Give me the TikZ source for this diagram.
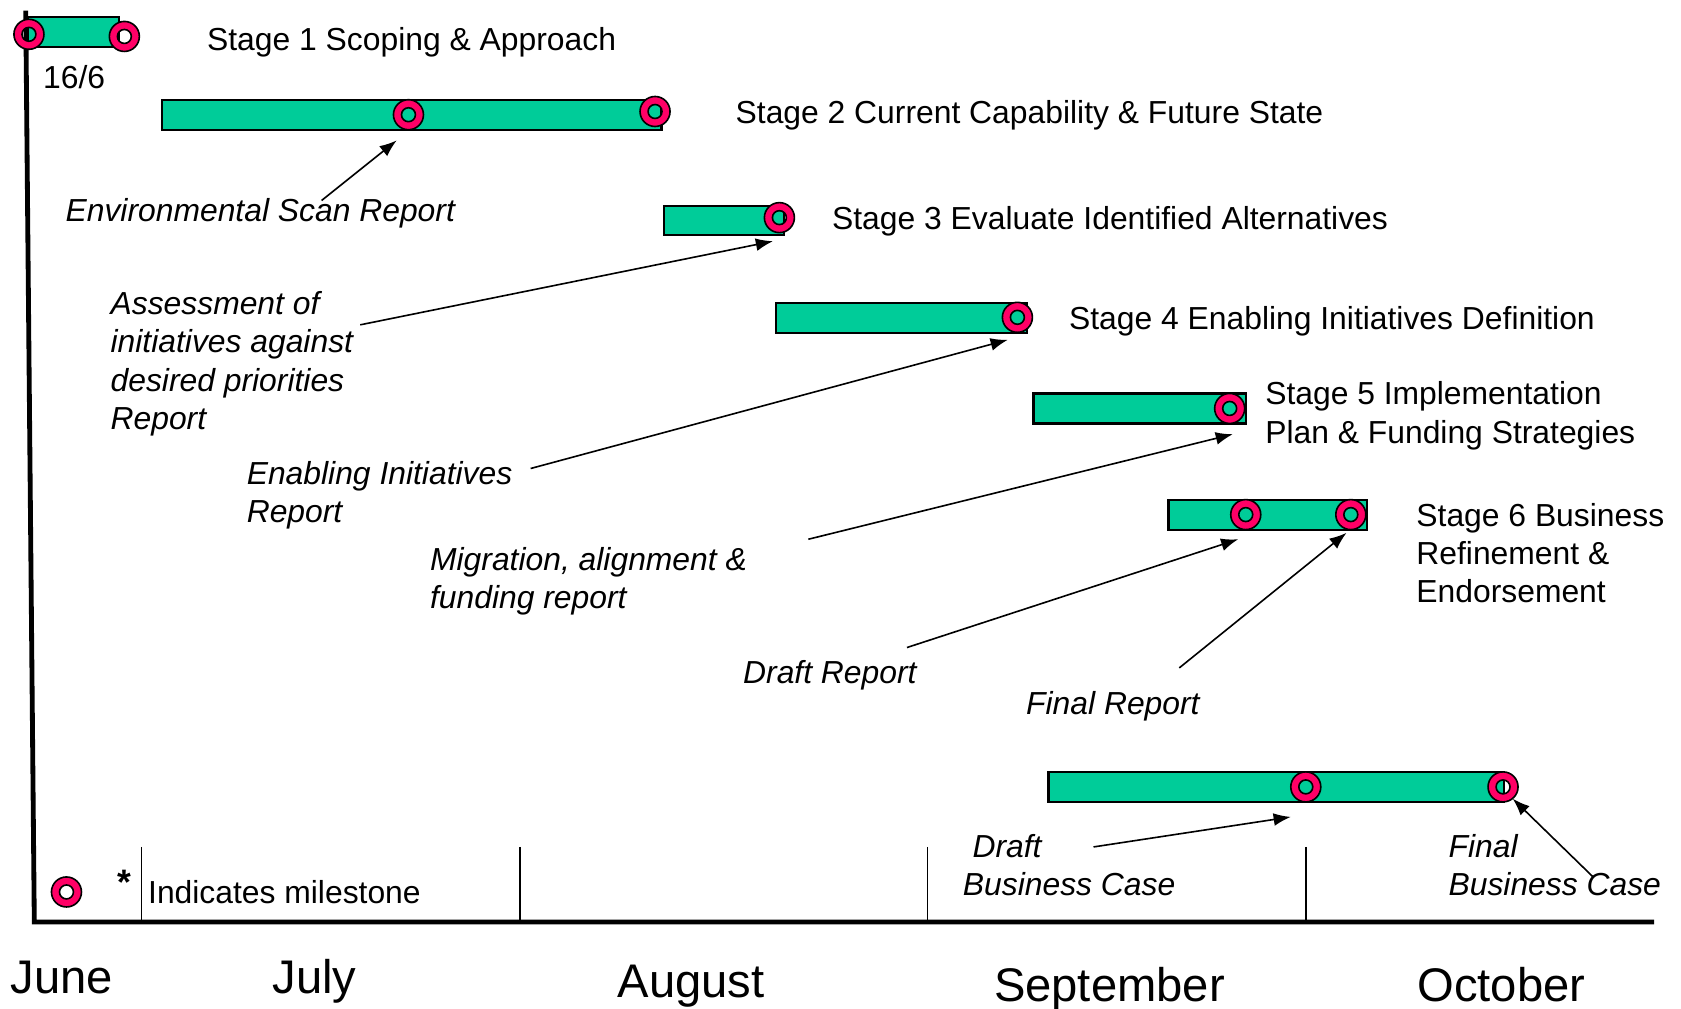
\documentclass[tikz,border=0pt]{standalone}
\usepackage{fontspec}
\setmainfont{Liberation Sans}
\usetikzlibrary{arrows.meta}
\definecolor{barfill}{RGB}{0,204,153}
\definecolor{msred}{RGB}{255,0,102}

\begin{document}
\begin{tikzpicture}[x=1pt,y=-1pt,
  bar/.style={draw=black, line width=2pt, fill=barfill, inner sep=0pt, outer sep=0pt},
  lbl/.style={anchor=base west, inner sep=0pt, font=\fontsize{29.7}{35.5}\selectfont},
  mlbl/.style={anchor=north west, inner sep=0pt, align=left, font=\fontsize{29.7}{35.5}\selectfont},
  note/.style={lbl, font=\fontsize{29.7}{35.5}\selectfont\itshape},
  mnote/.style={mlbl, font=\fontsize{29.7}{35.5}\selectfont\itshape},
  month/.style={anchor=base west, inner sep=0pt, font=\fontsize{44}{50}\selectfont},
  axisline/.style={line width=4.5pt},
  tickline/.style={line width=1.5pt},
  callout/.style={line width=1.5pt, -{Latex[length=16pt,width=12pt]}},
  milestone/.pic={\path[draw=black, line width=1.5pt, fill=msred, even odd rule]
      (0,0) circle[radius=14pt] (0,0) circle[radius=6.5pt];}
]
\useasboundingbox (0,0) rectangle (1568,941);

% time axis and month separators
\draw[axisline] (24,10) -- (32,860) -- (1543,860);
\foreach \x in {132,485,865,1218}
  \draw[tickline] (\x,790) -- (\x,858);

\node[month] (jun) at (10,927) {June};
\node[month] (jul) at (254,927) {July};
\node[month] (aug) at (576,930) {August};
\node[month] (sep) at (927,934) {September};
\node[month] (oct) at (1322,934) {October};

% stage bars
\node[bar, minimum width=85pt,  minimum height=28pt] (bar1) at (68.5,30) {};
\node[bar, minimum width=466pt, minimum height=28pt] (bar2) at (384,107) {};
\node[bar, minimum width=112pt, minimum height=27pt] (bar3) at (675,205.5) {};
\node[bar, minimum width=234pt, minimum height=28pt] (bar4) at (841,297) {};
\node[bar, minimum width=198pt, minimum height=28pt] (bar5) at (1063,381) {};
\node[bar, minimum width=185pt, minimum height=28pt] (bar6) at (1182.5,480) {};
\node[bar, minimum width=425pt, minimum height=28pt] (bar7) at (1190.5,734) {};

% milestones
\coordinate (m1a) at (27,32);
\coordinate (m1b) at (116,34);
\coordinate (m2a) at (381,107);
\coordinate (m2b) at (611,104);
\coordinate (m3)  at (727,203);
\coordinate (m4)  at (949,296);
\coordinate (m5)  at (1147,381);
\coordinate (m6a) at (1162,480);
\coordinate (m6b) at (1260,480);
\coordinate (m7a) at (1218,734);
\coordinate (m7b) at (1402,734);
\coordinate (mkey) at (62,832);
\foreach \m in {m1a,m1b,m2a,m2b,m3,m4,m5,m6a,m6b,m7a,m7b,mkey}
  \pic at (\m) {milestone};

% stage titles
\node[lbl] (t1) at (193,47) {Stage 1 Scoping \& Approach};
\node[lbl] (d1) at (40,83) {16/6};
\node[lbl] (t2) at (686,115) {Stage 2 Current Capability \& Future State};
\node[lbl] (t3) at (776,214) {Stage 3 Evaluate Identified Alternatives};
\node[lbl] (t4) at (997,307) {Stage 4 Enabling Initiatives Definition};
\node[mlbl] (t5) at (1180,356) {Stage 5 Implementation\\Plan \& Funding Strategies};
\node[mlbl] (t6) at (1321,469) {Stage 6 Business\\Refinement \&\\Endorsement};

% legend
\node[lbl, font=\fontsize{33}{36}\selectfont\bfseries] (star) at (109,834) {*};
\node[lbl] (key) at (138,843) {Indicates milestone};

% deliverables
\node[note] (env) at (61,207) {Environmental Scan Report};
\node[mnote] (ass) at (103,272) {Assessment of\\initiatives against\\desired priorities\\Report};
\node[mnote] (ena) at (230,430) {Enabling Initiatives\\Report};
\node[mnote] (mig) at (401,510) {Migration, alignment \&\\funding report};
\node[note] (dr) at (693,638) {Draft Report};
\node[note] (fr) at (957,666) {Final Report};
\node[mnote] (dbc) at (898,778) {\hspace{9pt}Draft\\Business Case};
\node[mnote] (fbc) at (1351,778) {Final\\Business Case};

% callout arrows
\coordinate (envS) at (300,187);  \coordinate (envE) at (370,131);
\coordinate (assS) at (336,303);  \coordinate (assE) at (721,225);
\coordinate (enaS) at (495,437);  \coordinate (enaE) at (940,317);
\coordinate (migS) at (754,503);  \coordinate (migE) at (1150,405);
\coordinate (drS)  at (846,604);  \coordinate (drE)  at (1155,503);
\coordinate (frS)  at (1100,623); \coordinate (frE)  at (1256,497);
\coordinate (dbcS) at (1020,790); \coordinate (dbcE) at (1204,762);
\coordinate (fbcS) at (1486,818); \coordinate (fbcE) at (1411,745);
\foreach \a in {env,ass,ena,mig,dr,fr,dbc,fbc}
  \draw[callout] (\a S) -- (\a E);
\end{tikzpicture}
\end{document}
